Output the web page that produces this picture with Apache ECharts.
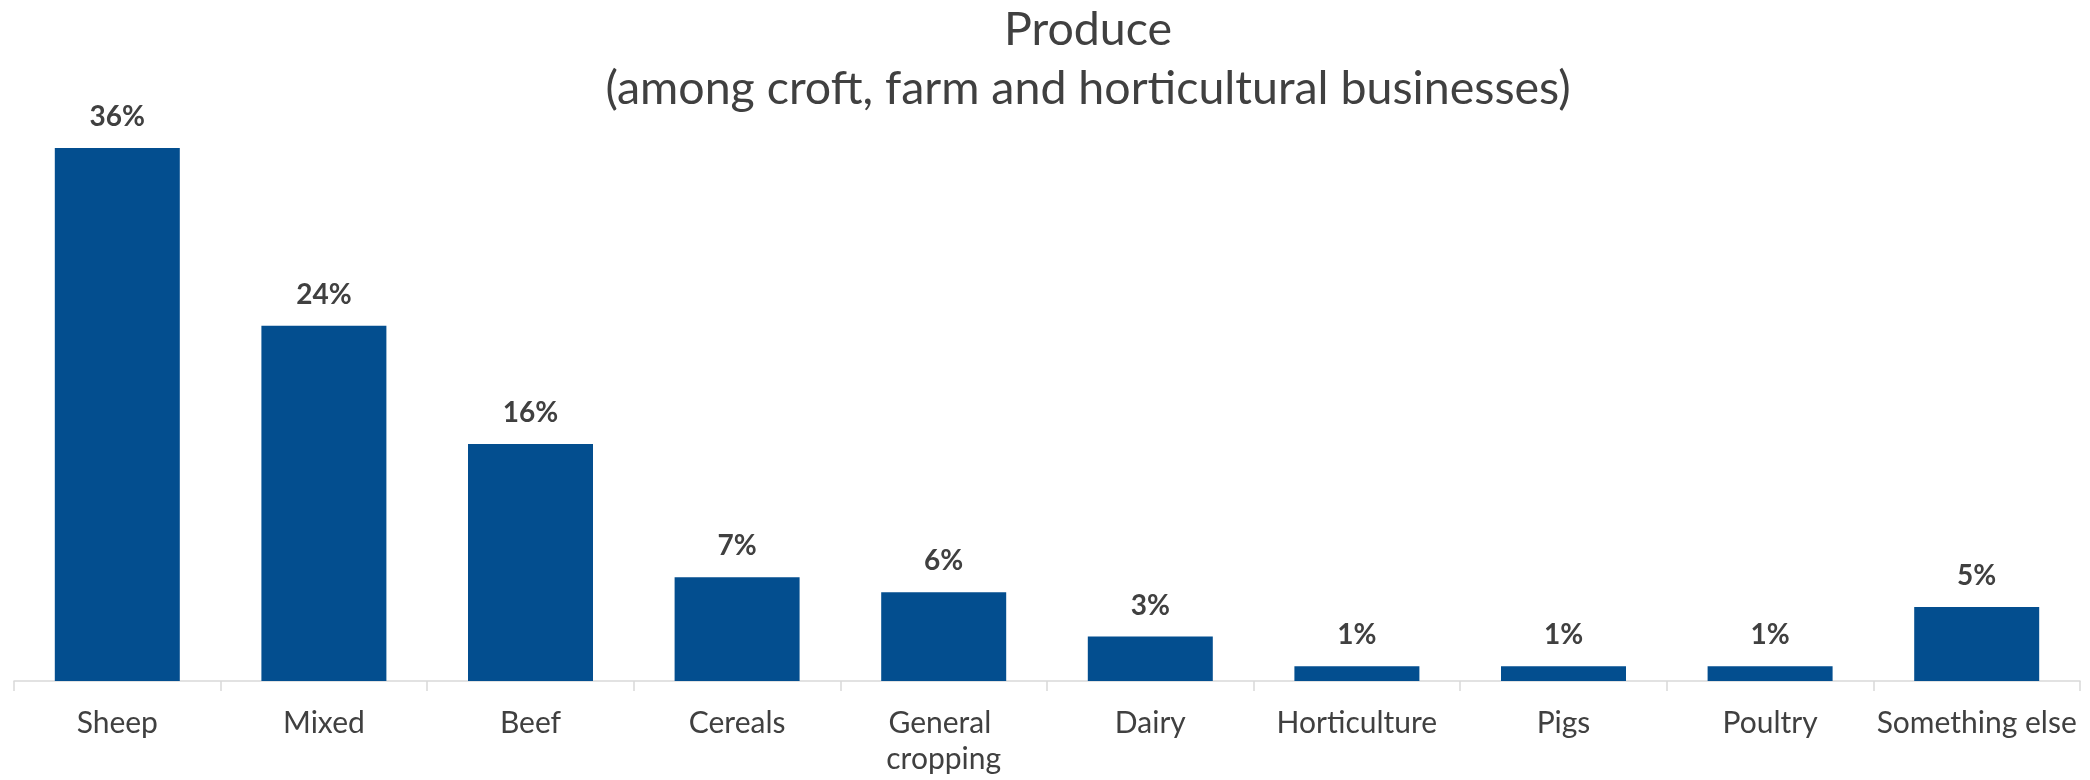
<!DOCTYPE html>
<html>
<head>
<meta charset="utf-8">
<title>Produce</title>
<script src="https://cdn.jsdelivr.net/npm/echarts@6/dist/echarts.min.js"></script>
<style>
  html, body { margin: 0; padding: 0; background: #ffffff; }
  #chart { width: 2090px; height: 780px; }
</style>
</head>
<body>
<div id="chart"></div>
<script>
// Share of businesses by main produce type (%)
const categories = ['Sheep', 'Mixed', 'Beef', 'Cereals', 'General cropping', 'Dairy', 'Horticulture', 'Pigs', 'Poultry', 'Something else'];
const shares = [36, 24, 16, 7, 6, 3, 1, 1, 1, 5];

const titleText = 'Produce\n(among croft, farm and horticultural businesses)';
const fontFamily = 'Lato, "Open Sans", sans-serif';
const textColor = '#404040';
const barColor = '#034E8F';
const axisColor = '#D9D9D9';

const chart = echarts.init(document.getElementById('chart'), null, { renderer: 'canvas' });

chart.setOption({
  backgroundColor: '#ffffff',
  animation: false,
  title: {
    text: titleText,
    left: 1083,
    top: -5,
    textAlign: 'center',
    textStyle: {
      fontFamily: fontFamily,
      fontSize: 46.5,
      fontWeight: 'normal',
      color: textColor,
      lineHeight: 59
    }
  },
  grid: {
    left: 14,
    right: 10,
    top: 148,
    bottom: 99,
    containLabel: false
  },
  xAxis: {
    type: 'category',
    data: categories,
    axisLine: { show: true, lineStyle: { color: axisColor, width: 1.5 } },
    axisTick: { show: true, length: 10, lineStyle: { color: axisColor, width: 1.5 } },
    axisLabel: {
      interval: 0,
      margin: 24,
      fontFamily: fontFamily,
      fontSize: 30,
      color: textColor,
      lineHeight: 36,
      width: 212,
      overflow: 'break'
    }
  },
  yAxis: {
    type: 'value',
    min: 0,
    max: 36,
    show: false,
    splitLine: { show: false }
  },
  series: [{
    type: 'bar',
    data: shares,
    barWidth: '60.5%',
    itemStyle: { color: barColor },
    label: {
      show: true,
      position: 'top',
      distance: 17,
      formatter: '{c}%',
      fontFamily: fontFamily,
      fontSize: 28,
      fontWeight: 'bold',
      color: textColor
    }
  }]
});
</script>
</body>
</html>
